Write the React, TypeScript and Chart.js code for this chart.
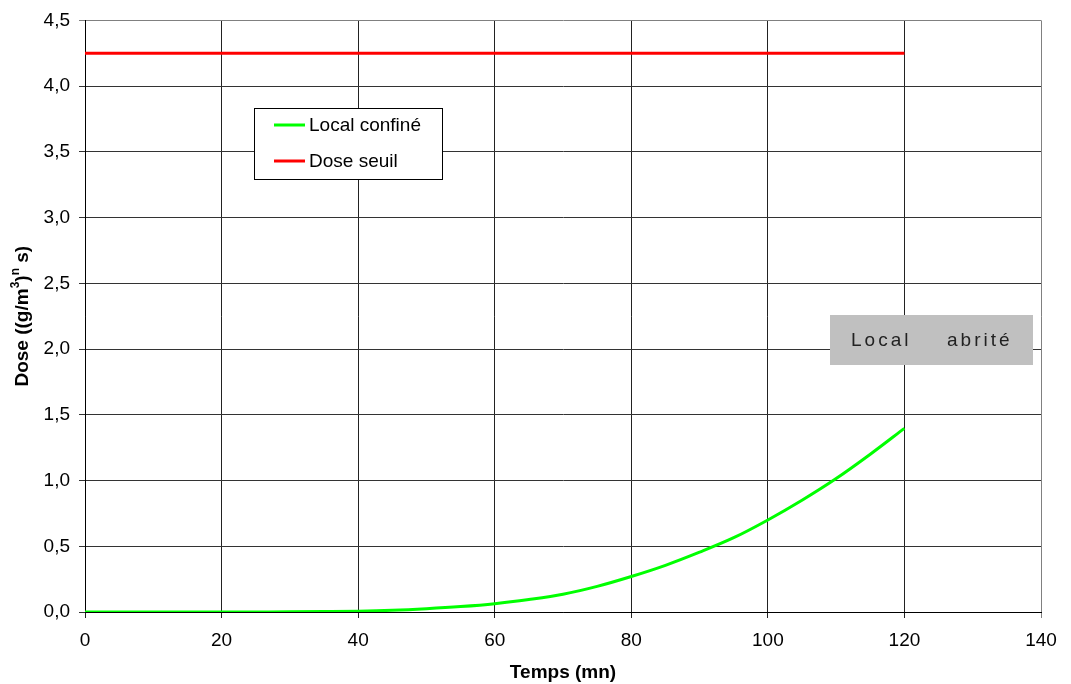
import React, { useEffect, useRef } from "react";
import { Chart, registerables } from "chart.js";

Chart.register(...registerables);

const timeMinutes = [0, 5, 10, 15, 20, 25, 30, 35, 40, 45, 50, 55, 60, 65, 70, 75, 80, 85, 90, 95, 100, 105, 110, 115, 120];
const localConfine = [0, 0, 0, 0, 0.0002, 0.0005, 0.001, 0.003, 0.006, 0.013, 0.025, 0.041, 0.063, 0.095, 0.135, 0.195, 0.27, 0.355, 0.455, 0.565, 0.7, 0.85, 1.015, 1.2, 1.397];
const seuilTimes = [0, 120];
const doseSeuil = [4.25, 4.25];
const seriesLabels = ["Local confiné", "Dose seuil"];
const annotationWords = ["Local", "abrité"];
const xTitle = "Temps (mn)";
const yTitleParts = ["Dose ((g/m", "3", ")", "n", " s)"];

const FONT = "'Liberation Sans', Arial, sans-serif";

const overlayPlugin = {
  id: "overlay",
  afterDraw(chart: any) {
    const ctx = chart.ctx;
    const area = chart.chartArea;
    ctx.save();
    // Y axis title with real superscripts
    ctx.save();
    const big = `bold 19px ${FONT}`;
    const small = `bold 12px ${FONT}`;
    const segs = yTitleParts.map((t, i) => ({ t, sup: i === 1 || i === 3 }));
    let total = 0;
    segs.forEach((s) => {
      ctx.font = s.sup ? small : big;
      total += ctx.measureText(s.t).width;
    });
    const cyTitle = (area.top + area.bottom) / 2;
    ctx.translate(21, cyTitle);
    ctx.rotate(-Math.PI / 2);
    ctx.fillStyle = "#000";
    ctx.textBaseline = "alphabetic";
    ctx.textAlign = "left";
    let px = -total / 2;
    segs.forEach((s) => {
      ctx.font = s.sup ? small : big;
      ctx.fillText(s.t, px, s.sup ? 7 - 9 : 7);
      px += ctx.measureText(s.t).width;
    });
    ctx.restore();

    // Legend box
    const lx = 254, ly = 108, lw = 188, lh = 71;
    ctx.fillStyle = "#ffffff";
    ctx.fillRect(lx, ly, lw, lh);
    ctx.strokeStyle = "#000000";
    ctx.lineWidth = 1;
    ctx.strokeRect(lx + 0.5, ly + 0.5, lw, lh);
    chart.data.datasets.forEach((ds: any, i: number) => {
      const cy = 125 + i * 36;
      ctx.strokeStyle = ds.borderColor;
      ctx.lineWidth = 3;
      ctx.beginPath();
      ctx.moveTo(274, cy);
      ctx.lineTo(305, cy);
      ctx.stroke();
      ctx.fillStyle = "#000";
      ctx.font = `19px ${FONT}`;
      ctx.textBaseline = "middle";
      ctx.textAlign = "left";
      ctx.fillText(ds.label, 309, cy + 1);
    });
    // Local abrité box
    const bx = 830, by = 315, bw = 203, bh = 50;
    ctx.fillStyle = "#c0c0c0";
    ctx.fillRect(bx, by, bw, bh);
    ctx.fillStyle = "#222";
    ctx.font = `19px ${FONT}`;
    (ctx as any).letterSpacing = "3px";
    ctx.textBaseline = "middle";
    ctx.textAlign = "left";
    ctx.fillText(annotationWords[0], 851, by + bh / 2 + 1);
    ctx.fillText(annotationWords[1], 947, by + bh / 2 + 1);
    (ctx as any).letterSpacing = "0px";
    ctx.restore();
  },
};

export default function App() {
  const ref = useRef<HTMLCanvasElement>(null);
  useEffect(() => {
    document.body.style.margin = "0";
    const canvas = ref.current!;
    const chart = new Chart(canvas, {
      type: "line",
      data: {
        datasets: [
          {
            label: seriesLabels[0],
            data: timeMinutes.map((t, i) => ({ x: t, y: localConfine[i] })),
            borderColor: "#00ff00",
            backgroundColor: "#00ff00",
            borderWidth: 3,
            pointRadius: 0,
            cubicInterpolationMode: "monotone",
          },
          {
            label: seriesLabels[1],
            data: seuilTimes.map((t, i) => ({ x: t, y: doseSeuil[i] })),
            borderColor: "#ff0000",
            backgroundColor: "#ff0000",
            borderWidth: 3,
            pointRadius: 0,
          },
        ],
      },
      options: {
        responsive: false,
        animation: false,
        layout: { padding: { top: 19, right: 30, left: 0, bottom: 0 } },
        plugins: { legend: { display: false }, tooltip: { enabled: false } },
        scales: {
          x: {
            type: "linear",
            min: 0,
            max: 140,
            ticks: { stepSize: 20, color: "#000", font: { family: FONT, size: 19 }, padding: 11, maxRotation: 0 },
            grid: {
              color: (c: any) => (c.tick && c.tick.value === 140 ? "#808080" : "#222"),
              tickLength: 6,
              lineWidth: 1,
            },
            border: { color: "#000", width: 1 },
            title: { display: true, text: xTitle, color: "#000", font: { family: FONT, size: 19, weight: "bold" }, padding: { top: 0, bottom: 0 } },
            afterFit: (s: any) => { s.height = 72; },
          },
          y: {
            min: 0,
            max: 4.5,
            ticks: {
              stepSize: 0.5,
              color: "#000",
              font: { family: FONT, size: 19 },
              padding: 9,
              callback: (v: any) => Number(v).toFixed(1).replace(".", ","),
            },
            grid: {
              color: (c: any) => (c.tick && c.tick.value === 4.5 ? "#808080" : "#333"),
              tickLength: 6,
              lineWidth: 1,
            },
            border: { color: "#000", width: 1 },
            title: { display: false },
            afterFit: (s: any) => { s.width = 85; },
          },
        },
      },
      plugins: [overlayPlugin],
    } as any);
    return () => chart.destroy();
  }, []);
  return (
    <div style={{ width: 1071, height: 684 }}>
      <canvas ref={ref} width={1071} height={684} style={{ display: "block" }} />
    </div>
  );
}
